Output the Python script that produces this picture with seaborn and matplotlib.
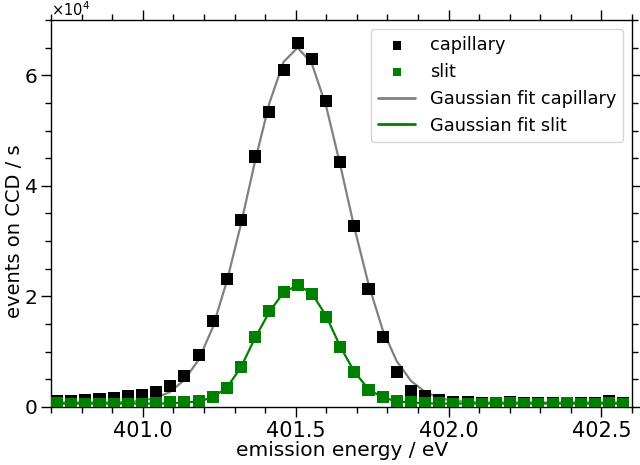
import numpy as np
import pandas as pd
import matplotlib
matplotlib.use('Agg')
import matplotlib.pyplot as plt
import seaborn as sns
from matplotlib.ticker import MultipleLocator, ScalarFormatter, FormatStrFormatter

# emission energy in eV (shared by both measurements)
energy = [400.719, 400.765, 400.812, 400.858, 400.904, 400.951, 400.997, 401.043,
          401.089, 401.136, 401.182, 401.228, 401.275, 401.321, 401.367, 401.414,
          401.460, 401.506, 401.552, 401.599, 401.645, 401.691, 401.738, 401.784,
          401.830, 401.877, 401.923, 401.969, 402.015, 402.062, 402.108, 402.154,
          402.201, 402.247, 402.293, 402.340, 402.386, 402.432, 402.478, 402.525,
          402.571]

# events on CCD per second
capillary = [1000, 1100, 1300, 1500, 1600, 2000, 2100, 2700, 3700, 5500, 9400, 15500,
             23200, 33900, 45300, 53400, 60900, 65800, 63000, 55300, 44300, 32800,
             21300, 12600, 6300, 2900, 1900, 1300, 850, 800, 750, 700, 800, 750,
             700, 750, 700, 700, 750, 1000, 750]
slit = [700, 600, 600, 600, 550, 600, 600, 700, 800, 800, 1100, 1700, 3400, 7200,
        12700, 17400, 20800, 22000, 20500, 16200, 10800, 6300, 3100, 1700, 1100,
        800, 700, 650, 600, 600, 600, 650, 650, 600, 600, 600, 650, 600, 600, 650, 600]

fit_capillary = [800, 800, 800, 800, 800, 900, 1100, 1650, 2700, 4900, 8500, 14300,
                 22800, 33100, 44500, 55000, 62400, 65000, 62200, 54500, 43900, 32600,
                 22200, 14000, 8300, 4700, 2700, 1600, 1100, 900, 800, 800, 800, 800,
                 800, 800, 800, 800, 800, 800, 800]
fit_slit = [600, 600, 600, 600, 600, 600, 600, 600, 650, 780, 1000, 1700, 3500, 7200,
            12500, 17200, 20700, 22000, 20600, 16500, 11000, 6400, 3200, 1700, 1000,
            780, 650, 600, 600, 600, 600, 600, 600, 600, 600, 600, 600, 600, 600, 600, 600]

df = pd.DataFrame({'energy': energy, 'capillary': capillary, 'slit': slit,
                   'fit_capillary': fit_capillary, 'fit_slit': fit_slit})

sns.set_theme(style='ticks')
plt.rcParams['font.family'] = ['DejaVu Sans']
plt.rcParams['text.color'] = 'black'
plt.rcParams['axes.labelcolor'] = 'black'
plt.rcParams['xtick.color'] = 'black'
plt.rcParams['ytick.color'] = 'black'

fig = plt.figure(figsize=(6.4, 4.65), dpi=100)
ax = fig.add_axes([0.08, 0.125, 0.9075, 0.832])

sns.scatterplot(data=df, x='energy', y='capillary', marker='s', color='black',
                s=75, edgecolor='none', label='capillary', ax=ax, zorder=3)
sns.scatterplot(data=df, x='energy', y='slit', marker='s', color='green',
                s=75, edgecolor='none', label='slit', ax=ax, zorder=3)
sns.lineplot(data=df, x='energy', y='fit_capillary', color='gray', lw=1.6,
             label='Gaussian fit capillary', ax=ax, zorder=2)
sns.lineplot(data=df, x='energy', y='fit_slit', color='green', lw=1.6,
             label='Gaussian fit slit', ax=ax, zorder=4)

ax.set_xlim(400.70, 402.60)
ax.set_ylim(0, 70000)
ax.xaxis.set_major_locator(MultipleLocator(0.5))
ax.xaxis.set_minor_locator(MultipleLocator(0.1))
ax.yaxis.set_major_locator(MultipleLocator(20000))
ax.yaxis.set_minor_locator(MultipleLocator(5000))
ax.xaxis.set_major_formatter(FormatStrFormatter('%.1f'))
fmt = ScalarFormatter(useMathText=True)
fmt.set_powerlimits((0, 0))
ax.yaxis.set_major_formatter(fmt)
ax.yaxis.get_offset_text().set_fontsize(10.5)

ax.tick_params(which='both', direction='out', top=True, right=True, labelsize=15, pad=3)
ax.tick_params(axis='y', labelsize=14.5, pad=2.5)
ax.tick_params(which='major', length=7.5, width=1)
ax.tick_params(which='minor', length=4, width=1)
for sp in ax.spines.values():
    sp.set_linewidth(1)
    sp.set_color('black')

ax.set_xlabel('emission energy / eV', fontsize=14.5, labelpad=0)
ax.set_ylabel('events on CCD / s', fontsize=14)
ax.yaxis.set_label_coords(-0.0473, 0.455)

leg = ax.legend(loc='upper right', fontsize=12.8, frameon=True, handlelength=2.1,
                borderaxespad=0.5, markerscale=0.7)
for h in leg.get_lines():
    h.set_linewidth(2)

fig.savefig('out.png', dpi=100)
